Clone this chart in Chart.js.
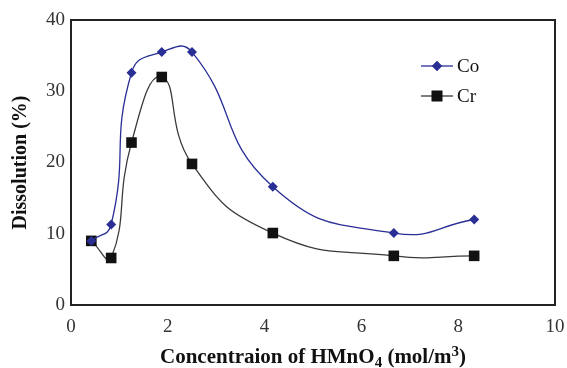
<!DOCTYPE html>
<html>
<head>
<meta charset="utf-8">
<script src="https://cdn.jsdelivr.net/npm/chart.js@4"></script>
<style>
    html, body { margin: 0; padding: 0; background: #fff; }
    #wrap { width: 567px; height: 368px; }
</style>
</head>
<body>
<div id="wrap"><canvas id="dissolutionChart" width="567" height="368"></canvas></div>
<script>
const concentration = [0.42, 0.83, 1.25, 1.875, 2.5, 4.17, 6.67, 8.33];
const cobalt = [9.0, 11.3, 32.6, 35.5, 35.5, 16.6, 10.1, 12.0];
const chromium = [9.0, 6.6, 22.8, 32.0, 19.8, 10.1, 6.9, 6.9];
const xTicks = [0, 2, 4, 6, 8, 10];
const yTicks = [0, 10, 20, 30, 40];

const CO_COLOR = '#2a2f96';
const CR_COLOR = '#3a3a3a';
const SERIF = '"Liberation Serif", "Times New Roman", serif';

function toPoints(values) {
    return concentration.map((x, i) => ({ x: x, y: values[i] }));
}

// legend drawn inside the plot, top right
const insideLegend = {
    id: 'insideLegend',
    afterDraw(chart) {
        const ctx = chart.ctx;
        const items = [
            { label: 'Co', line: CO_COLOR, fill: CO_COLOR, style: 'rectRot', radius: 5, y: 66 },
            { label: 'Cr', line: CR_COLOR, fill: '#111', style: 'rect', radius: 7.5, y: 96 }
        ];
        ctx.save();
        items.forEach(item => {
            ctx.strokeStyle = item.line;
            ctx.lineWidth = 1.3;
            ctx.beginPath();
            ctx.moveTo(421, item.y);
            ctx.lineTo(453, item.y);
            ctx.stroke();
            ctx.fillStyle = item.fill;
            Chart.helpers.drawPoint(ctx, { pointStyle: item.style, radius: item.radius, borderWidth: 0 }, 437, item.y);
            ctx.fill();
            ctx.fillStyle = '#111';
            ctx.font = '19px ' + SERIF;
            ctx.textBaseline = 'middle';
            ctx.fillText(item.label, 457, item.y + 1);
        });
        ctx.restore();
    }
};

// frame around the plot and the x title with its sub/superscript
const frameAndTitle = {
    id: 'frameAndTitle',
    afterDraw(chart) {
        const a = chart.chartArea;
        const ctx = chart.ctx;
        ctx.save();
        ctx.strokeStyle = '#222';
        ctx.lineWidth = 2;
        ctx.strokeRect(a.left, a.top, a.right - a.left, a.bottom - a.top);

        const big = 'bold 21px ' + SERIF;
        const small = 'bold 15px ' + SERIF;
        const parts = [
            { t: 'Concentraion of HMnO', f: big, dy: 0 },
            { t: '4', f: small, dy: 4 },
            { t: ' (mol/m', f: big, dy: 0 },
            { t: '3', f: small, dy: -7 },
            { t: ')', f: big, dy: 0 }
        ];
        let total = 0;
        parts.forEach(p => { ctx.font = p.f; p.w = ctx.measureText(p.t).width; total += p.w; });
        let x = (a.left + a.right) / 2 - total / 2;
        const baseY = 363;
        ctx.fillStyle = '#111';
        ctx.textBaseline = 'alphabetic';
        parts.forEach(p => {
            ctx.font = p.f;
            ctx.fillText(p.t, x, baseY + p.dy);
            x += p.w;
        });
        ctx.restore();
    }
};

const ctx = document.getElementById('dissolutionChart').getContext('2d');
new Chart(ctx, {
    type: 'scatter',
    data: {
        datasets: [
            {
                label: 'Co',
                data: toPoints(cobalt),
                showLine: true,
                borderColor: CO_COLOR,
                backgroundColor: CO_COLOR,
                borderWidth: 1.3,
                pointStyle: 'rectRot',
                pointRadius: 5,
                pointBorderWidth: 0,
                tension: 0.5
            },
            {
                label: 'Cr',
                data: toPoints(chromium),
                showLine: true,
                borderColor: CR_COLOR,
                backgroundColor: '#111',
                borderWidth: 1.3,
                pointStyle: 'rect',
                pointRadius: 7.5,
                pointBorderWidth: 0,
                tension: 0.5
            }
        ]
    },
    options: {
        responsive: false,
        animation: false,
        layout: { padding: { top: 20, right: 12, left: 0, bottom: 0 } },
        plugins: {
            legend: { display: false },
            tooltip: { enabled: false }
        },
        scales: {
            x: {
                type: 'linear',
                min: 0,
                max: 10,
                afterBuildTicks: axis => { axis.ticks = xTicks.map(v => ({ value: v })); },
                afterFit: axis => {
                    axis.height = 63;
                    axis.paddingLeft = 0;
                    axis.paddingRight = 0;
                },
                grid: { display: false, drawTicks: true, tickLength: 6, tickColor: '#222' },
                border: { display: true, color: '#222', width: 2 },
                ticks: { color: '#333', font: { family: SERIF, size: 19 }, padding: 5 },
                title: { display: false }
            },
            y: {
                min: 0,
                max: 40,
                afterBuildTicks: axis => { axis.ticks = yTicks.map(v => ({ value: v })); },
                afterFit: axis => {
                    axis.width = 71;
                    axis.paddingTop = 0;
                    axis.paddingBottom = 0;
                },
                grid: { display: false, drawTicks: true, tickLength: 5, tickColor: '#222' },
                border: { display: true, color: '#222', width: 2 },
                ticks: { color: '#333', font: { family: SERIF, size: 19 }, padding: 1 },
                title: {
                    display: true,
                    text: 'Dissolution (%)',
                    color: '#111',
                    font: { family: SERIF, size: 20, weight: 'bold' },
                    padding: { top: 9, bottom: 4 }
                }
            }
        }
    },
    plugins: [frameAndTitle, insideLegend]
});
</script>
</body>
</html>
